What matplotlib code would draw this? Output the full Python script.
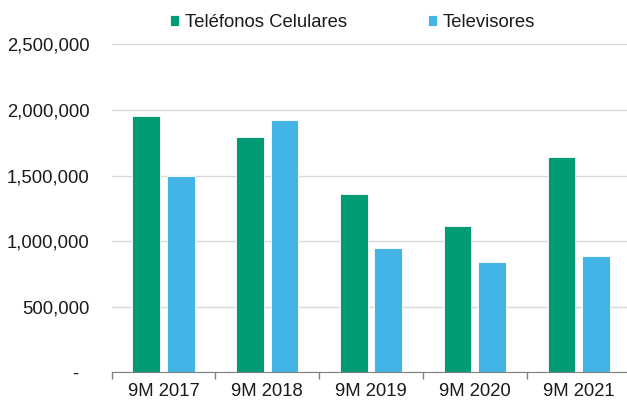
import matplotlib.pyplot as plt
import numpy as np
from matplotlib.ticker import FuncFormatter

plt.rcParams['font.family'] = ['Liberation Sans', 'DejaVu Sans']

periods = ["9M 2017", "9M 2018", "9M 2019", "9M 2020", "9M 2021"]
celulares = [1951000, 1796000, 1357000, 1117000, 1641000]
televisores = [1500000, 1925000, 950000, 838000, 886000]

green = "#009A74"
blue = "#42B5E6"


def fmt(v, pos):
    # accounting style: zero shown as a dash
    if v == 0:
        return "-  "
    return f"{v:,.0f}"


fig = plt.figure(figsize=(6.27, 4.01), dpi=100)
ax = fig.add_axes([0.178, 0.0716, 0.8276, 0.8179])

x = np.arange(len(periods))
w = 0.267
off = 0.166
ax.bar(x - off, celulares, w, color=green, edgecolor="white", linewidth=0.6,
       label="Teléfonos Celulares", zorder=3)
ax.bar(x + off, televisores, w, color=blue, edgecolor="white", linewidth=0.6,
       label="Televisores", zorder=3)

ax.set_xlim(-0.5, len(periods) - 0.5)
ax.set_ylim(0, 2500000)
ax.set_yticks(np.arange(0, 2500001, 500000))
ax.yaxis.set_major_formatter(FuncFormatter(fmt))
ax.grid(axis="y", color="#D9D9D9", linewidth=1, zorder=0)

ax.set_xticks(x)
ax.set_xticklabels(periods)
ax.set_xticks(np.arange(-0.5, len(periods)), minor=True)
ax.tick_params(axis="x", which="major", length=0, pad=8, labelsize=13.3,
               labelcolor="#1a1a1a")
ax.tick_params(axis="x", which="minor", length=5, color="#808080", width=1)
ax.tick_params(axis="y", length=0, pad=16, labelsize=13.3, labelcolor="#1a1a1a")

for s in ["top", "right", "left"]:
    ax.spines[s].set_visible(False)
ax.spines["bottom"].set_color("#808080")
ax.spines["bottom"].set_zorder(4)

leg = fig.legend(loc="center left", bbox_to_anchor=(170 / 627, 0.9434), ncol=2,
                 frameon=False, fontsize=13.3, borderpad=0, borderaxespad=0,
                 handlelength=0.5, handleheight=0.5, handletextpad=0.3,
                 columnspacing=4.4)
for t in leg.get_texts():
    t.set_color("#1a1a1a")

fig.savefig("out.png", dpi=100)
